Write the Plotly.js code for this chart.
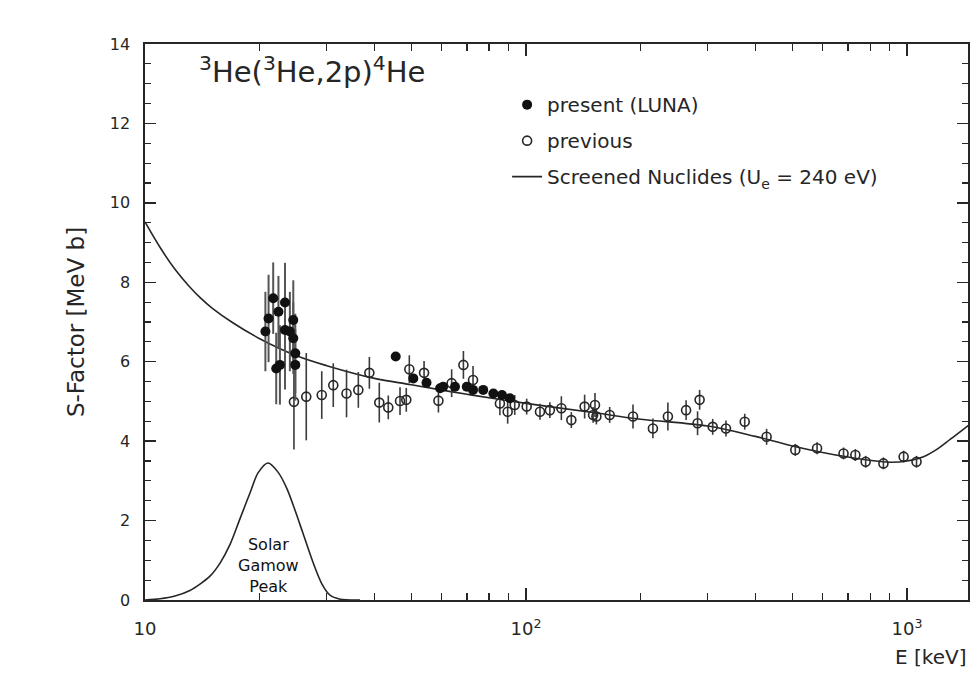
<!DOCTYPE html>
<html>
<head>
<meta charset="utf-8">
<script src="https://cdn.plot.ly/plotly-3.0.1.min.js"></script>
<style>html,body{margin:0;padding:0;background:#fff;}#chart{width:971px;height:677px;}</style>
</head>
<body>
<div id="chart"></div>
<script>
// LUNA (present) data: energy [keV], S-factor [MeV b], error
const lunaE = [20.7, 21.1, 21.7, 22.4, 23.3, 23.3, 24.0, 24.5, 24.5, 24.8, 22.1, 22.6, 24.8,
               45.5, 50.6, 54.8, 59.5, 60.6, 65.1, 69.9, 72.6, 77.2, 82.1, 86.5, 90.7];
const lunaS = [6.76, 7.09, 7.60, 7.26, 7.49, 6.80, 6.76, 7.05, 6.59, 6.21, 5.83, 5.92, 5.92,
               6.13, 5.58, 5.47, 5.33, 5.37, 5.37, 5.37, 5.29, 5.29, 5.20, 5.16, 5.08];
const lunaErr = [1.0, 1.1, 0.9, 0.9, 1.0, 1.5, 1.0, 1.0, 0.9, 1.0, 0.9, 1.0, 0.9,
                 0.1, 0.1, 0.1, 0.1, 0.1, 0.1, 0.1, 0.1, 0.1, 0.1, 0.1, 0.1];

// previous data
const prevE = [24.6, 26.5, 29.1, 31.2, 33.8, 36.3, 38.8, 41.2, 43.5, 46.7, 48.5, 49.4, 54.0, 58.9,
               63.8, 68.5, 72.6, 85.4, 89.5, 93.4, 100.4, 108.8, 115.5, 123.8, 131.5, 142.5, 150,
               151.7, 153, 165.8, 190.9, 215.3, 235.7, 263.1, 285.5, 282, 309, 334.8, 375, 428,
               509, 580.6, 681.3, 731.7, 778.8, 867, 979.6, 1059];
const prevS = [4.99, 5.12, 5.16, 5.41, 5.20, 5.29, 5.72, 4.97, 4.85, 5.01, 5.04, 5.81, 5.72, 5.02,
               5.46, 5.92, 5.54, 4.95, 4.74, 4.91, 4.87, 4.74, 4.78, 4.83, 4.53, 4.87, 4.66,
               4.91, 4.62, 4.66, 4.62, 4.32, 4.62, 4.78, 5.04, 4.45, 4.36, 4.32, 4.49, 4.11,
               3.78, 3.82, 3.69, 3.65, 3.48, 3.44, 3.61, 3.48];
const prevErr = [1.2, 1.1, 0.6, 0.55, 0.6, 0.45, 0.4, 0.5, 0.3, 0.35, 0.3, 0.35, 0.3, 0.3,
                 0.35, 0.35, 0.35, 0.3, 0.3, 0.25, 0.2, 0.2, 0.2, 0.3, 0.2, 0.3, 0.2,
                 0.3, 0.2, 0.2, 0.3, 0.25, 0.35, 0.25, 0.25, 0.3, 0.2, 0.2, 0.2, 0.2,
                 0.15, 0.15, 0.15, 0.15, 0.15, 0.15, 0.15, 0.15];

// screened nuclides curve
const curveE = [10, 11, 12, 13, 14, 15, 17, 20, 25, 30, 40, 50, 70, 100, 150, 200, 300, 400, 500,
                700, 900, 1000, 1100, 1200, 1300, 1450];
const curveS = [9.52, 8.85, 8.32, 7.92, 7.6, 7.35, 6.98, 6.58, 6.15, 5.9, 5.58, 5.42, 5.18, 4.95,
                4.72, 4.55, 4.38, 4.12, 3.88, 3.6, 3.47, 3.5, 3.6, 3.8, 4.05, 4.4];

// solar Gamow peak (arbitrary units)
const gamowE = [10, 10.95, 11.99, 13.12, 13.94, 14.81, 15.74, 16.72, 17.76, 18.87, 19.80, 21.03,
                22.34, 23.59, 24.76, 25.98, 27.60, 29.14, 30.59, 32.50, 36.67];
const gamowS = [0, 0.03, 0.10, 0.24, 0.40, 0.60, 0.93, 1.40, 2.05, 2.70, 3.20, 3.45,
                3.22, 2.80, 2.26, 1.68, 0.95, 0.40, 0.12, 0.02, 0];

const xMajor = [10, 100, 1000];
const xMajorText = ['10', '10<sup>2</sup>', '10<sup>3</sup>'];
const xMinor = [20, 30, 40, 50, 60, 70, 80, 90, 200, 300, 400, 500, 600, 700, 800, 900];

const FONT = 'DejaVu Sans, Liberation Sans, sans-serif';
const INK = '#262626';

const traces = [
  {
    x: gamowE, y: gamowS, type: 'scatter', mode: 'lines', line: {color: INK, width: 1.6, shape: 'spline', smoothing: 0.8},
    showlegend: false, hoverinfo: 'skip'
  },
  {
    x: curveE, y: curveS, type: 'scatter', mode: 'lines', name: 'Screened Nuclides (U<sub>e</sub> = 240 eV)',
    line: {color: INK, width: 1.6, shape: 'spline'}, legendrank: 3, legendgroup: 'c'
  },
  {
    x: prevE, y: prevS, type: 'scatter', mode: 'markers', name: 'previous',
    marker: {symbol: 'circle-open', size: 9, color: INK, line: {width: 1.6, color: INK}},
    error_y: {type: 'data', array: prevErr, visible: true, color: '#3a3a3a', thickness: 1.6, width: 0},
    legendrank: 2, legendgroup: 'b'
  },
  {
    x: lunaE, y: lunaS, type: 'scatter', mode: 'markers', name: 'present (LUNA)',
    marker: {symbol: 'circle', size: 10, color: '#111'},
    error_y: {type: 'data', array: lunaErr, visible: true, color: '#555', thickness: 2, width: 0},
    legendrank: 1, legendgroup: 'a'
  }
];

const layout = {
  width: 971, height: 677,
  margin: {l: 145, r: 3, t: 44, b: 77},
  paper_bgcolor: '#ffffff', plot_bgcolor: '#ffffff',
  font: {family: FONT, color: INK},
  showlegend: true,
  legend: {
    x: 0.44, y: 0.926, xanchor: 'left', yanchor: 'top',
    font: {family: FONT, size: 20, color: INK},
    bgcolor: 'rgba(0,0,0,0)', tracegroupgap: 7, traceorder: 'grouped'
  },
  xaxis: {
    type: 'log', range: [1, 3.16],
    tickmode: 'array', tickvals: xMajor, ticktext: xMajorText,
    ticks: 'inside', ticklen: 12, tickwidth: 1.5, tickcolor: INK,
    minor: {tickmode: 'array', tickvals: xMinor, ticks: 'inside', ticklen: 7, tickwidth: 1.2, tickcolor: INK},
    mirror: 'ticks', showline: true, linewidth: 1.6, linecolor: INK,
    showgrid: false, zeroline: false,
    tickfont: {family: FONT, size: 18, color: INK},
    ticklabelstandoff: 12
  },
  yaxis: {
    range: [0, 14], tickmode: 'linear', tick0: 0, dtick: 2,
    ticks: 'inside', ticklen: 11, tickwidth: 1.5, tickcolor: INK,
    minor: {dtick: 0.5, ticks: 'inside', ticklen: 6, tickwidth: 1.2, tickcolor: INK},
    mirror: 'ticks', showline: true, linewidth: 1.6, linecolor: INK,
    showgrid: false, zeroline: false,
    tickfont: {family: FONT, size: 16, color: INK},
    ticklabelstandoff: 10,
    title: {text: 'S-Factor [MeV b]', font: {family: FONT, size: 23, color: INK}, standoff: 19}
  },
  annotations: [
    {
      text: '<sup>3</sup>He(<sup>3</sup>He,2p)<sup>4</sup>He', xref: 'paper', yref: 'paper',
      x: 0.063, y: 0.953, xanchor: 'left', yanchor: 'middle', showarrow: false,
      font: {family: FONT, size: 29, color: INK}
    },
    {
      text: 'Solar<br>Gamow<br>Peak', xref: 'x', yref: 'y',
      x: Math.log10(gamowE[11]), y: 0.88, xanchor: 'center', yanchor: 'middle', showarrow: false,
      font: {family: FONT, size: 16, color: '#111'}
    },
    {
      text: 'E [keV]', xref: 'paper', yref: 'paper',
      x: 1.0, y: -0.103, xanchor: 'right', yanchor: 'middle', showarrow: false,
      font: {family: FONT, size: 20, color: INK}
    }
  ]
};

Plotly.newPlot('chart', traces, layout, {staticPlot: true, displayModeBar: false});
</script>
</body>
</html>
